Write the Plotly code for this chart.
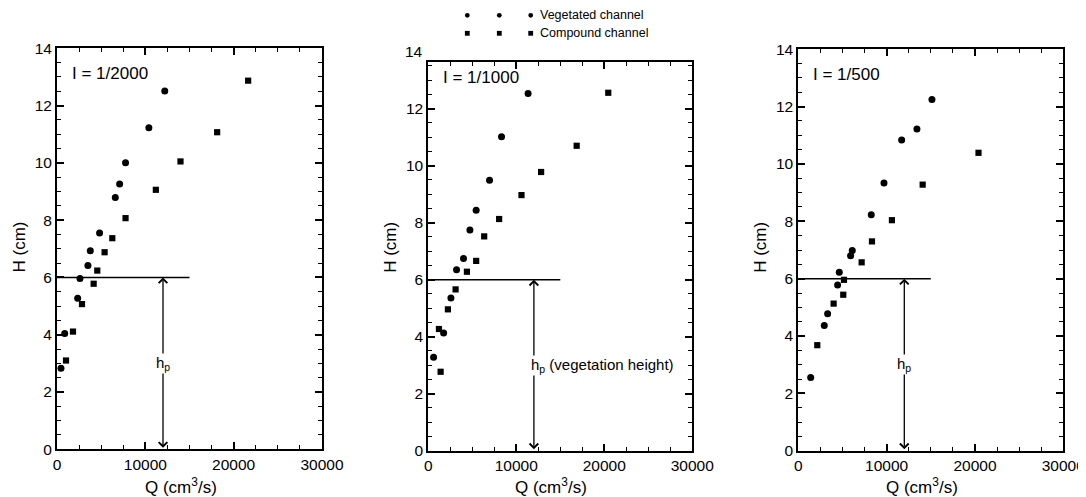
import plotly.graph_objects as go

W, H = 1086, 497
OFF = 8  # the page body adds an 8px margin around the figure
FW, FH = W - OFF, H - OFF  # figure size that exactly fills the visible window

# ---------------- data ----------------
panel_titles = ["I = 1/2000", "I = 1/1000", "I = 1/500"]

veg_q_2000 = [12200, 10400, 7760, 7090, 6600, 4820, 3770, 3500, 2600, 2340, 870, 450]
veg_h_2000 = [12.51, 11.23, 10.0, 9.26, 8.79, 7.55, 6.93, 6.42, 5.96, 5.27, 4.04, 2.83]
cmp_q_2000 = [21640, 18130, 13980, 11190, 7760, 6260, 5390, 4560, 4150, 2830, 1810, 1020]
cmp_h_2000 = [12.87, 11.07, 10.05, 9.06, 8.07, 7.37, 6.88, 6.24, 5.78, 5.07, 4.11, 3.10]

veg_q_1000 = [11340, 8320, 6960, 5440, 4730, 4000, 3210, 2570, 1740, 600]
veg_h_1000 = [12.53, 11.02, 9.49, 8.44, 7.74, 6.74, 6.35, 5.36, 4.13, 3.28]
cmp_q_1000 = [20450, 16860, 12820, 10590, 8050, 6350, 5440, 4390, 3100, 2230, 1210, 1400]
cmp_h_1000 = [12.56, 10.70, 9.78, 8.97, 8.13, 7.52, 6.66, 6.28, 5.66, 4.96, 4.27, 2.77]

veg_q_500 = [15130, 13430, 11700, 9700, 8260, 6110, 5920, 4640, 4450, 3320, 2940, 1400]
veg_h_500 = [12.25, 11.22, 10.84, 9.34, 8.23, 6.98, 6.80, 6.22, 5.78, 4.78, 4.37, 2.55]
cmp_q_500 = [20400, 14080, 10600, 8340, 7170, 5170, 5090, 4000, 2150]
cmp_h_500 = [10.39, 9.28, 8.04, 7.30, 6.57, 5.96, 5.44, 5.13, 3.68]

veg_q = [veg_q_2000, veg_q_1000, veg_q_500]
veg_h = [veg_h_2000, veg_h_1000, veg_h_500]
cmp_q = [cmp_q_2000, cmp_q_1000, cmp_q_500]
cmp_h = [cmp_h_2000, cmp_h_1000, cmp_h_500]

x_ticks = [0, 10000, 20000, 30000]
y_ticks = [0, 2, 4, 6, 8, 10, 12, 14]
x_max = 30000
y_max = [14, 13.65, 14]

hp_height = 6          # vegetation height (cm)
hp_line_end = 15000    # extent of the hp reference line
hp_arrow_q = 12000     # Q position of the hp arrow
hp_labels = ["h<sub>p</sub>", "h<sub>p</sub> (vegetation height)", "h<sub>p</sub>"]

legend_names = ["Vegetated channel", "Compound channel"]

# ---------------- layout geometry (screen pixels) ----------------
boxes = [  # left, right, top, bottom
    (57.0, 322.0, 48.3, 449.3),
    (428.3, 692.3, 61.7, 450.7),
    (798.3, 1063.3, 49.3, 450.7),
]


def fx(px):
    return (px - OFF) / FW


def fy(py):
    return 1 - (py - OFF) / FH


FONT = "Liberation Sans, Arial, sans-serif"
TICK_SIZE = 15.5
fig = go.Figure()
annotations = []
shapes = []

for i in range(3):
    n = "" if i == 0 else str(i + 1)
    xa, ya = "x" + n, "y" + n
    l, r, t, b = boxes[i]
    fig.add_trace(go.Scatter(x=veg_q[i], y=veg_h[i], mode="markers", xaxis=xa, yaxis=ya,
                             marker=dict(symbol="circle", size=7, color="black"),
                             showlegend=False, cliponaxis=False))
    fig.add_trace(go.Scatter(x=cmp_q[i], y=cmp_h[i], mode="markers", xaxis=xa, yaxis=ya,
                             marker=dict(symbol="square", size=6.2, color="black"),
                             showlegend=False, cliponaxis=False))
    axcommon = dict(showgrid=False, zeroline=False, showline=True, linecolor="black",
                    linewidth=2, mirror="allticks", ticks="inside", tickcolor="black",
                    tickwidth=1.5, ticklen=7, automargin=False,
                    tickfont=dict(family=FONT, size=TICK_SIZE, color="black"))
    fig.update_layout({
        "xaxis" + n: dict(domain=[fx(l), fx(r)], range=[0, x_max], tickvals=x_ticks,
                          ticktext=[str(v) for v in x_ticks],
                          anchor=ya, minor=dict(dtick=2500, tick0=0, ticks="inside",
                                                ticklen=4, tickcolor="black", tickwidth=1.2),
                          **axcommon),
        "yaxis" + n: dict(domain=[fy(b), fy(t)], range=[0, y_max[i]],
                          tickvals=[v for v in y_ticks if v <= y_max[i]],
                          ticktext=[str(v) for v in y_ticks if v <= y_max[i]],
                          anchor=xa, minor=dict(dtick=0.5, tick0=0, ticks="inside",
                                                ticklen=4, tickcolor="black", tickwidth=1.2),
                          **axcommon),
    })
    if y_max[i] < 14:
        annotations.append(dict(text="14", xref=xa + " domain", yref=ya + " domain",
                                x=0, y=14 / y_max[i], xanchor="right", yanchor="middle",
                                xshift=-3, showarrow=False,
                                font=dict(family=FONT, size=TICK_SIZE, color="black")))
    # hp line
    shapes.append(dict(type="line", xref=xa, yref=ya, x0=0, x1=hp_line_end,
                       y0=hp_height, y1=hp_height, line=dict(color="black", width=1.5)))
    # hp double arrow
    annotations.append(dict(x=hp_arrow_q, y=hp_height, ax=hp_arrow_q, ay=0,
                            xref=xa, yref=ya, axref=xa, ayref=ya, text="",
                            showarrow=True, arrowhead=4, startarrowhead=4,
                            arrowside="end+start", arrowsize=1.3, startarrowsize=1.3,
                            arrowwidth=1.3, arrowcolor="black", standoff=0, startstandoff=0))
    # hp label
    if i == 1:
        annotations.append(dict(text=hp_labels[i], xref=xa, yref=ya, x=hp_arrow_q, y=3.0,
                                xanchor="left", xshift=-4, showarrow=False, bgcolor="white",
                                borderpad=0, font=dict(family=FONT, size=15, color="black")))
    else:
        annotations.append(dict(text=hp_labels[i], xref=xa, yref=ya, x=hp_arrow_q, y=3.0,
                                xanchor="center", showarrow=False, bgcolor="white",
                                borderpad=0, font=dict(family=FONT, size=15, color="black")))
    # panel title
    annotations.append(dict(text=panel_titles[i], xref="paper", yref="paper",
                            x=fx(l + 13), y=fy(t + 25 if i != 1 else t + 15.5),
                            xanchor="left", yanchor="middle", showarrow=False,
                            font=dict(family=FONT, size=17, color="black")))
    # axis titles
    annotations.append(dict(text="Q (cm<sup>3</sup>/s)", xref="paper", yref="paper",
                            x=fx((l + r) / 2 - 9), y=fy(486), xanchor="center",
                            yanchor="middle", showarrow=False,
                            font=dict(family=FONT, size=17, color="black")))
    annotations.append(dict(text="H (cm)", xref="paper", yref="paper",
                            x=fx(l - 38.5), y=fy(247), xanchor="center", yanchor="middle",
                            textangle=-90, showarrow=False,
                            font=dict(family=FONT, size=17, color="black")))

# legend (drawn as small glyphs + text)
legend_rows = [15.3, 33.3]
legend_cols = [467.3, 499.3, 530.7]
for row, (yy, name) in enumerate(zip(legend_rows, legend_names)):
    for xx in legend_cols:
        s = 2.4
        shapes.append(dict(type="circle" if row == 0 else "rect", xref="paper", yref="paper",
                           x0=fx(xx - s), x1=fx(xx + s), y0=fy(yy + s), y1=fy(yy - s),
                           fillcolor="black", line=dict(width=0)))
    annotations.append(dict(text=name, xref="paper", yref="paper", x=fx(538), y=fy(yy),
                            xanchor="left", yanchor="middle", showarrow=False,
                            font=dict(family=FONT, size=12.5, color="black")))

fig.update_layout(width=FW, height=FH, margin=dict(l=0, r=0, t=0, b=0, pad=0),
                  paper_bgcolor="white", plot_bgcolor="white",
                  annotations=annotations, shapes=shapes, showlegend=False,
                  font=dict(family=FONT, color="black"))

fig.write_html("out.html")
